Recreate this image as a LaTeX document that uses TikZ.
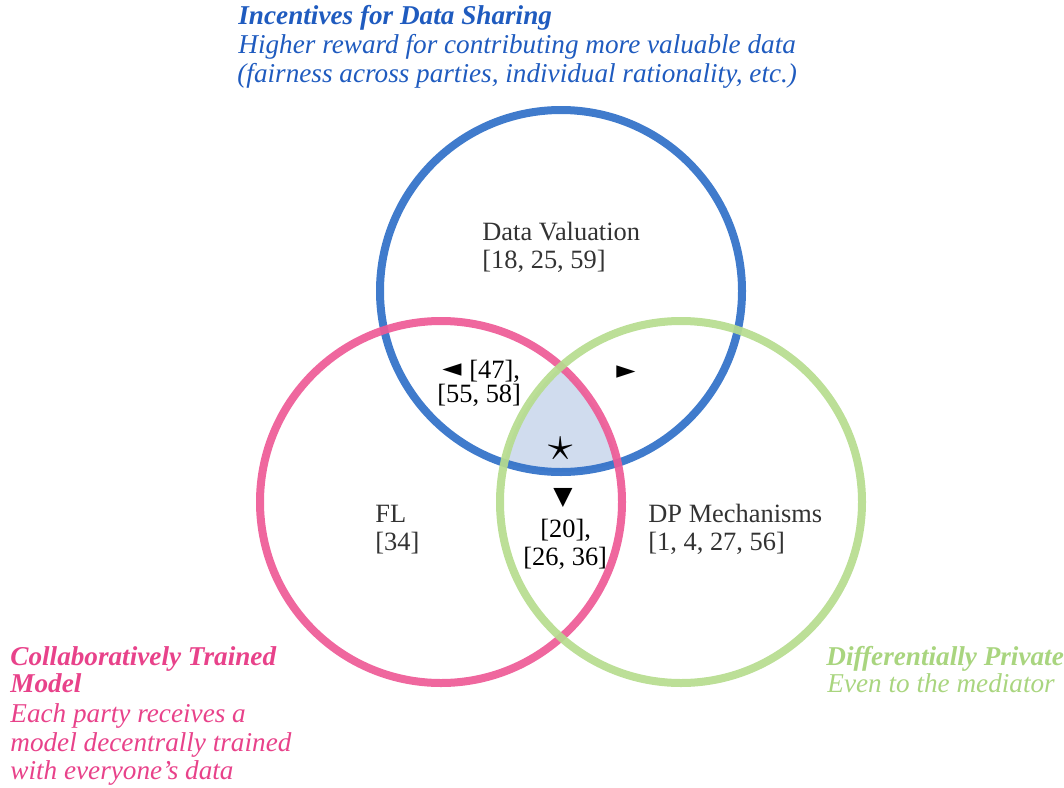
\documentclass[tikz,border=0pt]{standalone}
\usepackage{fontspec}
\setmainfont{Liberation Serif}
\newfontfamily\symfont{DejaVu Sans}
\definecolor{cblue}{HTML}{3070C8}
\definecolor{tblue}{HTML}{1F5BBF}
\definecolor{cpink}{HTML}{EE5A96}
\definecolor{tpink}{HTML}{E8428A}
\definecolor{cgreen}{HTML}{B6DC8E}
\definecolor{tgreen}{HTML}{A9D57F}
\definecolor{cfill}{HTML}{D0DCEE}
\definecolor{body}{HTML}{333333}
\begin{document}
\begin{tikzpicture}[x=0.5pt,y=-0.5pt,
  ring/.style={circle,draw=#1,line width=4pt,draw opacity=0.92,minimum size=181pt,inner sep=0pt},
  txt/.style={anchor=base west,inner sep=0pt,font=\fontsize{13.2}{14.5}\selectfont},
  ttl/.style={txt,font=\fontsize{13.6}{14.5}\selectfont\bfseries\itshape},
  sub/.style={txt,font=\fontsize{13.6}{14.5}\selectfont\itshape},
  sym/.style={inner sep=0pt,font=\symfont\fontsize{12.5}{13}\selectfont}]
\useasboundingbox (0,0) rectangle (1064,787);
\coordinate (cb) at (561,291);
\coordinate (cp) at (441,502);
\coordinate (cg) at (681,502);
\begin{scope}
  \clip (cb) circle[radius=181];
  \clip (cp) circle[radius=181];
  \fill[cfill] (cg) circle[radius=181];
\end{scope}
\node[ring=cblue] (blue) at (cb) {};
\node[ring=cpink] (pink) at (cp) {};
\node[ring=cgreen] (green) at (cg) {};
% top labels
\node[ttl,text=tblue] (t1) at (238,25) {Incentives for Data Sharing};
\node[sub,text=tblue] (t2) at (238,53) {Higher reward for contributing more valuable data};
\node[sub,text=tblue] (t3) at (237,82) {(fairness across parties, individual rationality, etc.)};
% pink labels
\node[ttl,text=tpink] (p1) at (10,665) {Collaboratively Trained};
\node[ttl,text=tpink] (p2) at (10,692) {Model};
\node[sub,text=tpink] (p3) at (10,722) {Each party receives a};
\node[sub,text=tpink] (p4) at (10,751) {model decentrally trained};
\node[sub,text=tpink] (p5) at (10,779) {with everyone’s data};
% green labels
\node[ttl,text=tgreen] (g1) at (826,665) {Differentially Private};
\node[sub,text=tgreen] (g2) at (827,692) {Even to the mediator};
% region labels
\node[txt,text=body] (dv1) at (482,240) {Data Valuation};
\node[txt,text=body] (dv2) at (482,268) {[18, 25, 59]};
\node[txt,text=body] (fl1) at (375,522) {FL};
\node[txt,text=body] (fl2) at (375,550) {[34]};
\node[txt,text=body] (dp1) at (648,522) {DP Mechanisms};
\node[txt,text=body] (dp2) at (648,550) {[1, 4, 27, 56]};
\node[sym] (lt) at (452,370) {◄};
\node[txt] (bp1) at (469,378) {[47],};
\node[txt] (bp2) at (437,402) {[55, 58]};
\node[sym] (rt) at (626,372) {►};
\node[inner sep=0pt,font=\fontsize{24}{24}\selectfont] (st) at (561,449) {$\star$};
\node[sym] (dn) at (563,498) {▼};
\node[txt] (pg1) at (540,537) {[20],};
\node[txt] (pg2) at (523,565) {[26, 36]};
\end{tikzpicture}
\end{document}
